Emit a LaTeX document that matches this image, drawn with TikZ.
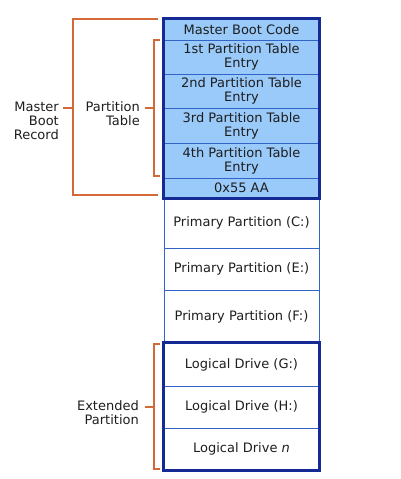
\documentclass[tikz,border=0pt]{standalone}
\usepackage{fontspec}
\setmainfont{DejaVu Sans}
\definecolor{cellfill}{RGB}{153,202,250}
\definecolor{navy}{RGB}{22,42,150}
\definecolor{inner}{RGB}{50,100,200}
\definecolor{brk}{RGB}{210,105,55}
\definecolor{txt}{RGB}{30,30,30}
\begin{document}
\begin{tikzpicture}[x=1pt,y=-1pt,
  cell/.style={draw=inner,line width=0.9pt,minimum width=155pt,inner sep=0pt,
    align=center,font=\fontsize{13}{14}\selectfont,text=txt,anchor=center},
  mbr/.style={cell,fill=cellfill},
  lbl/.style={align=right,font=\fontsize{13}{14}\selectfont,text=txt,inner sep=0pt,anchor=east},
  brace/.style={draw=brk,line width=1.6pt},
  frame/.style={draw=navy,line width=2.2pt}]
\useasboundingbox (0,0) rectangle (400,479);
% MBR rows
\node[mbr,minimum height=21pt] (mbc) at (241.5,29.5) {Master Boot Code};
\node[mbr,minimum height=34pt] (p1) at (241.5,57) {1st Partition Table\\Entry};
\node[mbr,minimum height=34pt] (p2) at (241.5,91) {2nd Partition Table\\Entry};
\node[mbr,minimum height=35pt] (p3) at (241.5,125.5) {3rd Partition Table\\Entry};
\node[mbr,minimum height=35pt] (p4) at (241.5,160.5) {4th Partition Table\\Entry};
\node[mbr,minimum height=20pt] (sig) at (241.5,188) {0x55 AA};
% primary partitions
\node[cell,minimum height=50pt] (pc) at (241.5,223) {Primary Partition (C:)};
\node[cell,minimum height=42pt] (pe) at (241.5,269) {Primary Partition (E:)};
\node[cell,minimum height=53pt] (pf) at (241.5,316.5) {Primary Partition (F:)};
% logical drives
\node[cell,minimum height=43pt] (lg) at (241.5,364.5) {Logical Drive (G:)};
\node[cell,minimum height=42pt] (lh) at (241.5,407) {Logical Drive (H:)};
\node[cell,minimum height=42pt] (ln) at (241.5,449) {Logical Drive \textit{n}};
% thick frames
\draw[frame] (mbc.north west) rectangle (sig.south east);
\draw[frame] (lg.north west) rectangle (ln.south east);
% labels
\node[lbl] (mbrl) at (59,121) {Master\\Boot\\Record};
\node[lbl] (ptl) at (140,114) {Partition\\Table};
\node[lbl] (extl) at (139,413) {Extended\\Partition};
% bracket coordinates
\coordinate (mbrt) at (63,108);
\coordinate (ptt) at (145,108);
\coordinate (extt) at (145,407);
% brackets
\draw[brace] (158,19) -- (73,19) -- (73,195) -- (158,195);
\draw[brace] (mbrt) -- (73,108);
\draw[brace] (160,40) -- (154,40) -- (154,176) -- (160,176);
\draw[brace] (ptt) -- (154,108);
\draw[brace] (160,344) -- (154,344) -- (154,469) -- (160,469);
\draw[brace] (extt) -- (154,407);
\end{tikzpicture}
\end{document}
